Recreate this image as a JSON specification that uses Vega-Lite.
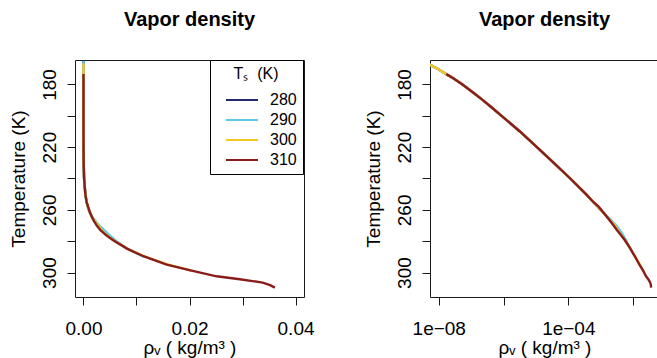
{
  "$schema": "https://vega.github.io/schema/vega-lite/v6.json",
  "autosize": {"type": "none"},
  "padding": {"left": 75, "top": 60, "right": 600, "bottom": 300},
  "background": "white",
  "bounds": "flush",
  "spacing": 126,
  "config": {
    "font": "Liberation Sans",
    "view": {"stroke": "#1a1a1a", "strokeWidth": 1},
    "axis": {"domain": false, "grid": false, "tickColor": "#1a1a1a", "tickSize": 8, "labelFontSize": 19, "titleFontSize": 19, "labelColor": "black", "titleColor": "black", "titleFontWeight": "normal", "labelFont": "Liberation Sans", "titleFont": "Liberation Sans"},
    "title": {"fontSize": 20, "font": "Liberation Sans", "fontWeight": "bold", "color": "black", "anchor": "middle", "baseline": "alphabetic", "offset": 30}
  },
  "resolve": {"scale": {"color": "independent"}, "legend": {"color": "independent"}},
  "datasets": {
    "prof": [
      {"Ts": 280, "T": 164.5, "rho": 2.6e-9}, {"Ts": 280, "T": 165, "rho": 3.0e-9}, {"Ts": 280, "T": 166.5, "rho": 4.3e-9}, {"Ts": 280, "T": 167.5, "rho": 5.4e-9}, {"Ts": 280, "T": 170, "rho": 9.2e-9}, {"Ts": 280, "T": 173.4, "rho": 1.7e-8}, {"Ts": 280, "T": 176, "rho": 2.8e-8}, {"Ts": 280, "T": 180, "rho": 5.4e-8}, {"Ts": 280, "T": 185, "rho": 1.12e-7}, {"Ts": 280, "T": 190, "rho": 2.3e-7}, {"Ts": 280, "T": 195, "rho": 4.5e-7}, {"Ts": 280, "T": 200, "rho": 8.7e-7}, {"Ts": 280, "T": 210, "rho": 3.2e-6}, {"Ts": 280, "T": 220, "rho": 1.07e-5}, {"Ts": 280, "T": 230, "rho": 3.55e-5}, {"Ts": 280, "T": 240, "rho": 1.15e-4}, {"Ts": 280, "T": 250, "rho": 3.5e-4}, {"Ts": 280, "T": 255, "rho": 5.9e-4}, {"Ts": 280, "T": 260, "rho": 1.0e-3}, {"Ts": 280, "T": 265, "rho": 1.67e-3}, {"Ts": 280, "T": 270, "rho": 2.8e-3}, {"Ts": 280, "T": 273, "rho": 3.6e-3}, {"Ts": 280, "T": 276, "rho": 4.6e-3}, {"Ts": 280, "T": 280, "rho": 6.0e-3},
      {"Ts": 290, "T": 165, "rho": 3.0e-9}, {"Ts": 290, "T": 166.5, "rho": 4.3e-9}, {"Ts": 290, "T": 167.5, "rho": 5.4e-9}, {"Ts": 290, "T": 170, "rho": 9.2e-9}, {"Ts": 290, "T": 173.4, "rho": 1.7e-8}, {"Ts": 290, "T": 176, "rho": 2.8e-8}, {"Ts": 290, "T": 180, "rho": 5.4e-8}, {"Ts": 290, "T": 185, "rho": 1.12e-7}, {"Ts": 290, "T": 190, "rho": 2.3e-7}, {"Ts": 290, "T": 195, "rho": 4.5e-7}, {"Ts": 290, "T": 200, "rho": 8.7e-7}, {"Ts": 290, "T": 210, "rho": 3.2e-6}, {"Ts": 290, "T": 220, "rho": 1.07e-5}, {"Ts": 290, "T": 230, "rho": 3.55e-5}, {"Ts": 290, "T": 240, "rho": 1.15e-4}, {"Ts": 290, "T": 250, "rho": 3.5e-4}, {"Ts": 290, "T": 255, "rho": 5.9e-4}, {"Ts": 290, "T": 260, "rho": 1.0e-3}, {"Ts": 290, "T": 265, "rho": 1.75e-3}, {"Ts": 290, "T": 270, "rho": 3.0e-3}, {"Ts": 290, "T": 273, "rho": 3.9e-3}, {"Ts": 290, "T": 276, "rho": 4.85e-3}, {"Ts": 290, "T": 280, "rho": 6.2e-3}, {"Ts": 290, "T": 285, "rho": 8.4e-3}, {"Ts": 290, "T": 290, "rho": 1.14e-2},
      {"Ts": 300, "T": 166.5, "rho": 4.3e-9}, {"Ts": 300, "T": 167.5, "rho": 5.4e-9}, {"Ts": 300, "T": 170, "rho": 9.2e-9}, {"Ts": 300, "T": 173.4, "rho": 1.7e-8}, {"Ts": 300, "T": 176, "rho": 2.8e-8}, {"Ts": 300, "T": 180, "rho": 5.4e-8}, {"Ts": 300, "T": 185, "rho": 1.12e-7}, {"Ts": 300, "T": 190, "rho": 2.3e-7}, {"Ts": 300, "T": 195, "rho": 4.5e-7}, {"Ts": 300, "T": 200, "rho": 8.7e-7}, {"Ts": 300, "T": 210, "rho": 3.2e-6}, {"Ts": 300, "T": 220, "rho": 1.07e-5}, {"Ts": 300, "T": 230, "rho": 3.55e-5}, {"Ts": 300, "T": 240, "rho": 1.15e-4}, {"Ts": 300, "T": 250, "rho": 3.5e-4}, {"Ts": 300, "T": 255, "rho": 5.9e-4}, {"Ts": 300, "T": 260, "rho": 1.0e-3}, {"Ts": 300, "T": 265, "rho": 1.66e-3}, {"Ts": 300, "T": 270, "rho": 2.75e-3}, {"Ts": 300, "T": 273, "rho": 3.4e-3}, {"Ts": 300, "T": 276, "rho": 4.3e-3}, {"Ts": 300, "T": 280, "rho": 5.9e-3}, {"Ts": 300, "T": 285, "rho": 8.4e-3}, {"Ts": 300, "T": 290, "rho": 1.17e-2}, {"Ts": 300, "T": 295, "rho": 1.60e-2}, {"Ts": 300, "T": 298.5, "rho": 2.0e-2}, {"Ts": 300, "T": 299.5, "rho": 2.02e-2},
      {"Ts": 310, "T": 173.4, "rho": 1.7e-8}, {"Ts": 310, "T": 176, "rho": 2.8e-8}, {"Ts": 310, "T": 180, "rho": 5.4e-8}, {"Ts": 310, "T": 185, "rho": 1.12e-7}, {"Ts": 310, "T": 190, "rho": 2.3e-7}, {"Ts": 310, "T": 195, "rho": 4.5e-7}, {"Ts": 310, "T": 200, "rho": 8.7e-7}, {"Ts": 310, "T": 210, "rho": 3.2e-6}, {"Ts": 310, "T": 220, "rho": 1.07e-5}, {"Ts": 310, "T": 230, "rho": 3.55e-5}, {"Ts": 310, "T": 240, "rho": 1.15e-4}, {"Ts": 310, "T": 250, "rho": 3.5e-4}, {"Ts": 310, "T": 255, "rho": 5.9e-4}, {"Ts": 310, "T": 258, "rho": 8.6e-4}, {"Ts": 310, "T": 262, "rho": 1.25e-3}, {"Ts": 310, "T": 266.6, "rho": 1.88e-3}, {"Ts": 310, "T": 270, "rho": 2.5e-3}, {"Ts": 310, "T": 273, "rho": 3.2e-3}, {"Ts": 310, "T": 276, "rho": 4.2e-3}, {"Ts": 310, "T": 279.4, "rho": 5.6e-3}, {"Ts": 310, "T": 284.7, "rho": 8.2e-3}, {"Ts": 310, "T": 289.6, "rho": 1.13e-2}, {"Ts": 310, "T": 294.9, "rho": 1.57e-2}, {"Ts": 310, "T": 298.5, "rho": 2.0e-2}, {"Ts": 310, "T": 302.4, "rho": 2.51e-2}, {"Ts": 310, "T": 304.3, "rho": 2.95e-2}, {"Ts": 310, "T": 306.4, "rho": 3.38e-2}, {"Ts": 310, "T": 308, "rho": 3.52e-2}, {"Ts": 310, "T": 309.6, "rho": 3.61e-2}
    ]
  },
  "hconcat": [
    {
      "width": 229,
      "height": 237,
      "title": {"text": "Vapor density"},
      "data": {"name": "prof"},
      "mark": {"type": "line", "strokeWidth": 2.4, "clip": true},
      "encoding": {
        "x": {"field": "rho", "type": "quantitative", "scale": {"domain": [-0.0016, 0.0416], "nice": false, "zero": false},
              "axis": {"values": [0, 0.01, 0.02, 0.03, 0.04], "format": ".2f", "labelExpr": "datum.value == 0.01 || datum.value == 0.03 ? '' : datum.label", "title": "ρᵥ ( kg/m³ )", "labelPadding": 14, "titlePadding": 0, "labelFlush": false, "labelOverlap": false}},
        "y": {"field": "T", "type": "quantitative", "scale": {"domain": [164.4, 315.6], "reverse": true, "nice": false, "zero": false},
              "axis": {"values": [180, 200, 220, 240, 260, 280, 300], "labelExpr": "(datum.value - 180) % 40 == 0 ? datum.label : ''", "labelAngle": -90, "labelAlign": "center", "labelBaseline": "bottom", "labelPadding": 8, "title": "Temperature (K)", "titlePadding": 12, "labelFlush": false, "labelOverlap": false}},
        "color": {"field": "Ts", "type": "nominal", "scale": {"domain": [280, 290, 300, 310], "range": ["#1F2A6E", "#5CC8E4", "#F6C623", "#8B1C1C"]},
                  "legend": {"orient": "none", "legendX": 135, "legendY": 0, "title": "Tₛ\u00a0\u00a0(K)", "titleFontSize": 16, "titleFontWeight": "normal", "titleColor": "black", "titleAnchor": "middle", "titlePadding": 10, "labelFontSize": 16, "labelColor": "black", "symbolType": "M-3.2,0H3.2", "symbolSize": 100, "symbolStrokeWidth": 2, "symbolOffset": 18, "labelOffset": 20, "padding": 6, "strokeColor": "black", "fillColor": "white", "rowPadding": 4, "cornerRadius": 0}},
        "order": {"field": "T", "type": "quantitative"}
      }
    },
    {
      "width": 229,
      "height": 237,
      "title": {"text": "Vapor density"},
      "data": {"name": "prof"},
      "mark": {"type": "line", "strokeWidth": 2.4, "clip": true},
      "encoding": {
        "x": {"field": "rho", "type": "quantitative", "scale": {"type": "log", "domain": [5.37e-9, 0.063], "nice": false},
              "axis": {"values": [1e-8, 1e-6, 1e-4, 1e-2], "labelExpr": "datum.value < 1e-7 ? '1e−08' : (datum.value > 1e-5 && datum.value < 1e-3 ? '1e−04' : '')", "title": "ρᵥ ( kg/m³ )", "labelPadding": 14, "titlePadding": 0, "labelFlush": false, "labelOverlap": false}},
        "y": {"field": "T", "type": "quantitative", "scale": {"domain": [164.4, 315.6], "reverse": true, "nice": false, "zero": false},
              "axis": {"values": [180, 200, 220, 240, 260, 280, 300], "labelExpr": "(datum.value - 180) % 40 == 0 ? datum.label : ''", "labelAngle": -90, "labelAlign": "center", "labelBaseline": "bottom", "labelPadding": 8, "title": "Temperature (K)", "titlePadding": 12, "labelFlush": false, "labelOverlap": false}},
        "color": {"field": "Ts", "type": "nominal", "scale": {"domain": [280, 290, 300, 310], "range": ["#1F2A6E", "#5CC8E4", "#F6C623", "#8B1C1C"]}, "legend": null},
        "order": {"field": "T", "type": "quantitative"}
      }
    }
  ]
}
